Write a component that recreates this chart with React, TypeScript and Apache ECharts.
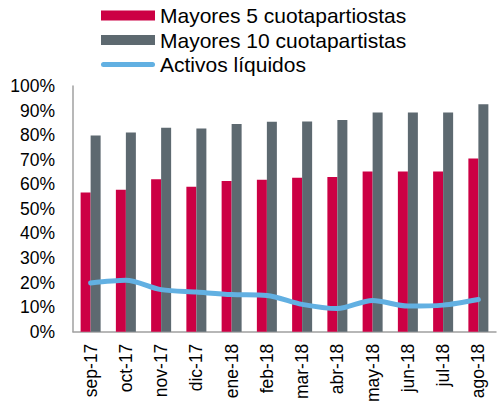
import React, { useEffect, useRef } from "react";
import * as echarts from "echarts";

const categories = ["sep-17", "oct-17", "nov-17", "dic-17", "ene-18", "feb-18", "mar-18", "abr-18", "may-18", "jun-18", "jul-18", "ago-18"];
const mayores5 = [56.6, 57.8, 62.0, 59.0, 61.3, 61.8, 62.6, 63.0, 65.2, 65.2, 65.2, 70.5];
const mayores10 = [79.8, 81.1, 83.0, 82.7, 84.5, 85.4, 85.5, 86.2, 89.2, 89.2, 89.2, 92.6];
const activosLiquidos = [19.8, 20.9, 17.1, 16.1, 15.1, 14.7, 11.1, 9.4, 12.7, 10.4, 10.8, 13.1];

const FONT = "'Liberation Sans', Arial, sans-serif";
const LINE_ICON = "path://M0,0 M54,10 M2.5,2.5 L51.5,2.5 A2.5,2.5 0 0 1 51.5,7.5 L2.5,7.5 A2.5,2.5 0 0 1 2.5,2.5 Z";

export default function App() {
  const ref = useRef<HTMLDivElement>(null);
  useEffect(() => {
    document.body.style.margin = "0";
    const chart = echarts.init(ref.current!, null, { renderer: "svg" });
    chart.setOption({
      animation: false,
      textStyle: { fontFamily: FONT },
      legend: {
        orient: "vertical",
        left: 96,
        top: 0,
        itemWidth: 54,
        itemHeight: 10,
        itemGap: 3.5,
        textStyle: { fontSize: 21, color: "#000", fontFamily: FONT },
        data: [
          { name: "Mayores 5 cuotapartiostas", icon: "rect" },
          { name: "Mayores 10 cuotapartistas", icon: "rect" },
          { name: "Activos líquidos", icon: LINE_ICON },
        ],
      },
      grid: { left: 73, right: 2, top: 86, bottom: 69, containLabel: false },
      xAxis: {
        type: "category",
        data: categories,
        axisLine: { lineStyle: { color: "#a0a0a0", width: 1.5 } },
        axisTick: { show: false },
        axisLabel: {
          rotate: 90,
          color: "#000",
          fontSize: 17.5,
          fontFamily: FONT,
          margin: 12,
          interval: 0,
        },
      },
      yAxis: {
        type: "value",
        min: 0,
        max: 100,
        interval: 10,
        splitLine: { show: false },
        axisLine: { show: true, lineStyle: { color: "#a0a0a0", width: 1.5 } },
        axisTick: { show: false },
        axisLabel: {
          formatter: "{value}%",
          color: "#000",
          fontSize: 17.5,
          fontFamily: FONT,
          margin: 18,
        },
      },
      series: [
        {
          name: "Mayores 5 cuotapartiostas",
          type: "bar",
          data: mayores5,
          barWidth: 10,
          barGap: "0%",
          itemStyle: { color: "#cc0044" },
        },
        {
          name: "Mayores 10 cuotapartistas",
          type: "bar",
          data: mayores10,
          barWidth: 10,
          barGap: "0%",
          itemStyle: { color: "#5d6970" },
        },
        {
          name: "Activos líquidos",
          type: "line",
          data: activosLiquidos,
          smooth: 0.3,
          symbol: "none",
          lineStyle: { color: "#62b0e2", width: 5, cap: "round" },
          itemStyle: { color: "#62b0e2" },
        },
      ],
    });
    return () => chart.dispose();
  }, []);
  return <div ref={ref} style={{ width: 498, height: 405 }} />;
}
